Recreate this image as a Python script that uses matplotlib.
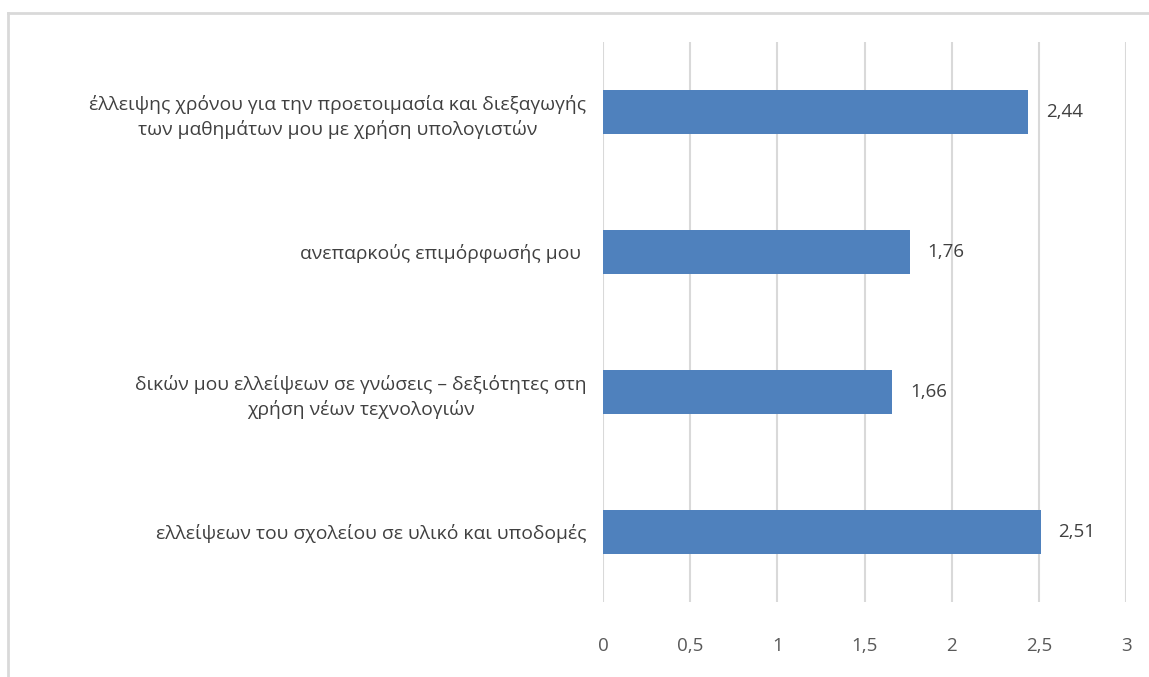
import matplotlib.pyplot as plt
import matplotlib as mpl
import numpy as np

categories = [
    'ελλείψεων του σχολείου σε υλικό και υποδομές',
    'δικών μου ελλείψεων σε γνώσεις – δεξιότητες στη\nχρήση νέων τεχνολογιών',
    'ανεπαρκούς επιμόρφωσής μου ',
    'έλλειψης χρόνου για την προετοιμασία και διεξαγωγής\nτων μαθημάτων μου με χρήση υπολογιστών',
]
values = [2.51, 1.66, 1.76, 2.44]
x_ticks = [0, 0.5, 1, 1.5, 2, 2.5, 3]

plt.rcParams['font.family'] = ['Open Sans', 'DejaVu Sans']

fig = plt.figure(figsize=(11.49, 6.77), dpi=100)
ax = fig.add_axes([0.5248, 0.1108, 0.4552, 0.8272])

y = np.arange(len(categories))
ax.barh(y, values, height=0.31, color='#4F81BD', zorder=3)

for yi, v in zip(y, values):
    ax.text(v + 0.1, yi, '{:.2f}'.format(v).replace('.', ','),
            va='center', ha='left', fontsize=13.5, color='#404040')

ax.set_xlim(0, 3)
ax.set_ylim(-0.5, len(categories) - 0.5)
ax.set_xticks(x_ticks)
ax.set_xticklabels([str(t).replace('.', ',') for t in x_ticks])
ax.set_yticks(y)
ax.set_yticklabels(categories, multialignment='center', linespacing=1.4)

ax.grid(axis='x', color='#D9D9D9', linewidth=1.5, zorder=0)
for s in ax.spines.values():
    s.set_visible(False)
ax.tick_params(axis='x', length=0, pad=25, labelsize=13.5, labelcolor='#595959')
ax.tick_params(axis='y', length=0, pad=12, labelsize=13.9, labelcolor='#404040')

# chart border (only top and left edges are visible in the frame)
fig.add_artist(mpl.lines.Line2D([8 / 1149, 1], [1 - 13 / 677, 1 - 13 / 677],
                                transform=fig.transFigure, color='#D9D9D9', linewidth=2))
fig.add_artist(mpl.lines.Line2D([8 / 1149, 8 / 1149], [0, 1 - 13 / 677],
                                transform=fig.transFigure, color='#D9D9D9', linewidth=2))

fig.savefig('out.png', dpi=100)
